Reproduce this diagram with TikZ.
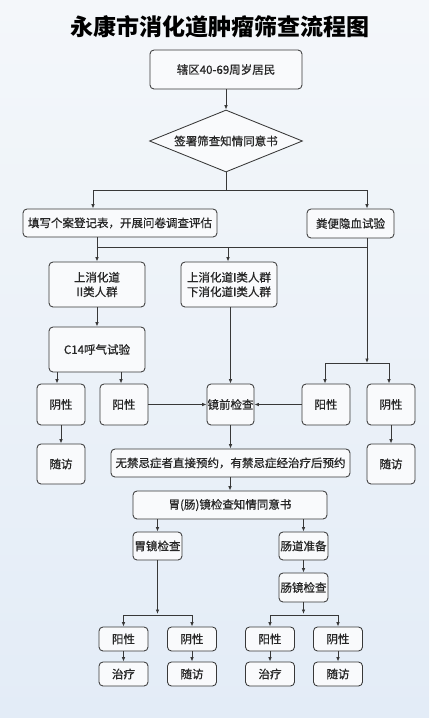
\documentclass[tikz,border=0pt]{standalone}
\usepackage{fontspec}
\newfontfamily\cjk{Noto Sans CJK SC}
\newfontfamily\cjkb[FakeBold=0.8]{Noto Sans CJK SC}
\usetikzlibrary{arrows.meta,shapes.geometric}
\definecolor{bgtop}{HTML}{F4F7FA}
\definecolor{bgbot}{HTML}{E3ECF7}
\definecolor{edge}{HTML}{383838}
\definecolor{boxfill}{HTML}{F9FAFC}
\begin{document}
\begin{tikzpicture}[x=1pt,y=-1pt,
  box/.style={draw=edge,line width=0.85pt,rounded corners=4pt,fill=boxfill,inner sep=0pt,align=center,
    font=\cjkb\fontsize{11.5}{14.5}\selectfont,text=black!85},
  link/.style={draw=edge,line width=0.85pt},
  arr/.style={link,-{Latex[length=4.5pt,width=3.6pt]}}]
\shade[top color=bgtop,bottom color=bgbot] (0,0) rectangle (429,718);
\useasboundingbox (0,0) rectangle (429,718);
% title
\node (title) at (220,27) {\cjk\bfseries\fontsize{23}{26}\selectfont 永康市消化道肿瘤筛查流程图};
% top
\node[box,minimum width=152pt,minimum height=39pt] (b1) at (226,69.5) {辖区40-69周岁居民};
\node[box,shape=diamond,rounded corners=0pt,minimum width=153pt,minimum height=62pt,aspect=2.5] (d) at (226,141) {签署筛查知情同意书};
\draw[arr] (b1.south) -- (d.north);
\coordinate (j1) at (226,190);
\coordinate (j1l) at (93,190);
\coordinate (j1r) at (367,190);
\node[box,minimum width=194pt,minimum height=28pt] (fill) at (120,223) {填写个案登记表，开展问卷调查评估};
\node[box,minimum width=87pt,minimum height=29pt] (fob) at (350.5,223.5) {粪便隐血试验};
\draw[link] (d.south) -- (j1);
\draw[link] (j1l) -- (j1r);
\draw[arr] (j1l) -- (j1l |- fill.north);
\draw[arr] (j1r) -- (j1r |- fob.north);
% second level
\node[box,minimum width=96pt,minimum height=45pt] (up2) at (97,284.5) {上消化道\\II类人群};
\node[box,minimum width=96pt,minimum height=45pt] (up1) at (229,284.5) {上消化道I类人群\\下消化道I类人群};
\coordinate (j2l) at (97,247);
\coordinate (j2m) at (228,247);
\coordinate (j2r) at (367,247);
\draw[link] (j2l |- fill.south) -- (j2l) -- (j2r);
\draw[arr] (j2l) -- (up2.north);
\draw[arr] (j2m) -- (j2m |- up1.north);
\node[box,minimum width=96pt,minimum height=45pt] (c14) at (97,349.5) {C14呼气试验};
\draw[arr] (up2.south) -- (c14.north);
% third level
\node[box,minimum width=48pt,minimum height=41pt] (yin1) at (61,404.5) {阴性};
\node[box,minimum width=48pt,minimum height=41pt] (yang1) at (124,404.5) {阳性};
\node[box,minimum width=47pt,minimum height=41pt] (jq) at (230.5,404.5) {镜前检查};
\node[box,minimum width=48pt,minimum height=41pt] (yang2) at (326,404.5) {阳性};
\node[box,minimum width=48pt,minimum height=41pt] (yin2) at (391,404.5) {阴性};
\draw[arr] (c14.south -| 57,0) -- (yin1.north -| 57,0);
\draw[arr] (c14.south -| 121,0) -- (yang1.north -| 121,0);
\draw[arr] (up1.south -| jq.north) -- (jq.north);
\coordinate (j3) at (367,363);
\coordinate (j3l) at (325,363);
\coordinate (j3r) at (389,363);
\draw[arr] (fob.south -| j3) -- (j3);
\draw[link] (j3l) -- (j3r);
\draw[arr] (j3l) -- (j3l |- yang2.north);
\draw[arr] (j3r) -- (j3r |- yin2.north);
\draw[arr] (yang1.east) -- (jq.west);
\draw[arr] (yang2.west) -- (jq.east);
\node[box,minimum width=48pt,minimum height=40pt] (sf1) at (61,464) {随访};
\node[box,minimum width=48pt,minimum height=40pt] (sf2) at (391,464) {随访};
\draw[arr] (yin1.south) -- (sf1.north);
\draw[arr] (yin2.south) -- (sf2.north);
\node[box,minimum width=239pt,minimum height=28pt] (yy) at (230.5,463) {无禁忌症者直接预约，有禁忌症经治疗后预约};
\draw[arr] (jq.south) -- (yy.north);
\node[box,minimum width=194pt,minimum height=28pt] (zq) at (230,505) {胃(肠)镜检查知情同意书};
\draw[arr] (yy.south -| zq.north) -- (zq.north);
% endoscopy
\node[box,minimum width=49pt,minimum height=28pt] (wj) at (157.5,546) {胃镜检查};
\node[box,minimum width=49pt,minimum height=28pt] (cd) at (303.5,546) {肠道准备};
\node[box,minimum width=49pt,minimum height=29pt] (cj) at (303.5,587.5) {肠镜检查};
\draw[arr] (zq.south -| wj.north) -- (wj.north);
\draw[arr] (zq.south -| cd.north) -- (cd.north);
\draw[arr] (cd.south) -- (cj.north);
% bottom row
\node[box,minimum width=49pt,minimum height=24pt] (p1) at (123.5,639) {阳性};
\node[box,minimum width=49pt,minimum height=24pt] (n1) at (192,639) {阴性};
\node[box,minimum width=49pt,minimum height=24pt] (p2) at (270,639) {阳性};
\node[box,minimum width=49pt,minimum height=24pt] (n2) at (338,639) {阴性};
\node[box,minimum width=49pt,minimum height=24pt] (t1) at (123.5,674) {治疗};
\node[box,minimum width=49pt,minimum height=24pt] (s1) at (192,674) {随访};
\node[box,minimum width=49pt,minimum height=24pt] (t2) at (270,674) {治疗};
\node[box,minimum width=49pt,minimum height=24pt] (s2) at (338,674) {随访};
\coordinate (j4) at (157.5,614);
\coordinate (j5) at (303.5,614);
\draw[arr] (wj.south) -- (j4);
\draw[arr] (cj.south) -- (j5);
\draw[link] (p1.north |- 0,615) -- (n1.north |- 0,615);
\draw[link] (p2.north |- 0,615) -- (n2.north |- 0,615);
\draw[arr] (p1.north |- 0,615) -- (p1.north);
\draw[arr] (n1.north |- 0,615) -- (n1.north);
\draw[arr] (p2.north |- 0,615) -- (p2.north);
\draw[arr] (n2.north |- 0,615) -- (n2.north);
\draw[arr] (p1.south) -- (t1.north);
\draw[arr] (n1.south) -- (s1.north);
\draw[arr] (p2.south) -- (t2.north);
\draw[arr] (n2.south) -- (s2.north);
\end{tikzpicture}
\end{document}
